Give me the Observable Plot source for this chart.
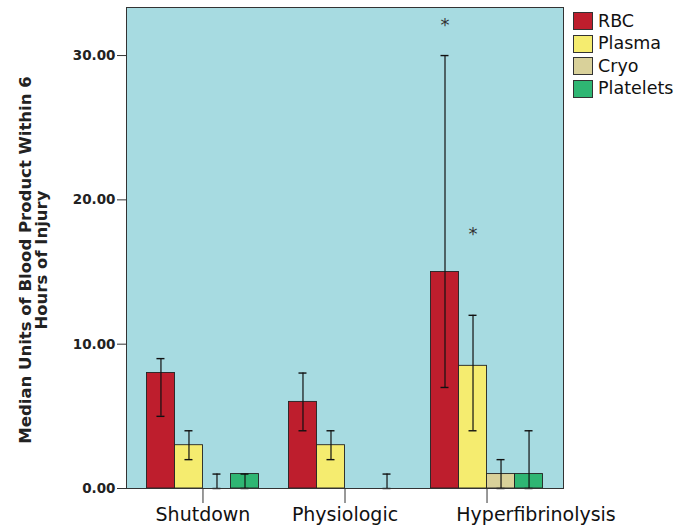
<!DOCTYPE html>
<html>
<head>
<meta charset="utf-8">
<script src="https://cdn.jsdelivr.net/npm/d3@7"></script>
<script src="https://cdn.jsdelivr.net/npm/@observablehq/plot@0.6"></script>
<style>
  html, body { margin: 0; padding: 0; background: #fff; }
  #wrap { position: relative; width: 684px; height: 530px; font-family: "DejaVu Sans", sans-serif; overflow: hidden; }
  #wrap svg { position: absolute; left: 0; top: 0; }
  #legend { position: absolute; left: 573px; top: 10px; }
  .row { display: flex; align-items: center; height: 22.5px; }
  .sw { width: 18px; height: 16px; border: 1px solid #333; margin-right: 5px; box-sizing: content-box; }
  .lb { font-size: 17.5px; color: #111; line-height: 1; }
  #ylabel { position: absolute; width: 450px; height: 32px; left: -191px; top: 244px; transform: rotate(-90deg); transform-origin: 50% 50%;
            text-align: center; font-weight: bold; font-size: 16.5px; line-height: 16px; color: #222; white-space: pre; }
</style>
</head>
<body>
<div id="wrap"></div>
<script>
const groups = ["Shutdown", "Physiologic", "Hyperfibrinolysis"];
const products = ["RBC", "Plasma", "Cryo", "Platelets"];
const colors = ["#be1e2d", "#f5ec6f", "#d9d19a", "#2fb673"];

const rbc = [8, 6, 15];
const rbcLo = [5, 4, 7];
const rbcHi = [9, 8, 30];
const plasma = [3, 3, 8.5];
const plasmaLo = [2, 2, 4];
const plasmaHi = [4, 4, 12];
const cryo = [0, 0, 1];
const cryoLo = [0, null, 0];
const cryoHi = [1, null, 2];
const platelets = [1, 0, 1];
const plateletsLo = [0, 0, 0];
const plateletsHi = [1, 1, 4];
const rbcOutlier = [null, null, 32.1];
const plasmaOutlier = [null, null, 17.6];
const yTicks = [0, 10, 20, 30];
const yLabel = "Median Units of Blood Product Within 6\nHours of Injury";

const series = [
  [rbc, rbcLo, rbcHi, rbcOutlier],
  [plasma, plasmaLo, plasmaHi, plasmaOutlier],
  [cryo, cryoLo, cryoHi, null],
  [platelets, plateletsLo, plateletsHi, null]
];
const rows = [];
groups.forEach((g, gi) => {
  products.forEach((p, pi) => {
    const [v, lo, hi, out] = series[pi];
    rows.push({group: g, product: p, value: v[gi], lo: lo[gi], hi: hi[gi], star: out ? out[gi] : null});
  });
});

const W = 684, H = 530, mL = 126, mR = 121, mT = 7, mB = 42;
const padIn = 0.211, padOut = 0.144;
const band = d3.scaleBand(groups, [mL, W - mR]).paddingInner(padIn).paddingOuter(padOut).bandwidth();
const sub = band / products.length;
const cap = 8;

const productMarks = products.flatMap((p, i) => {
  const mine = rows.filter(d => d.product === p);
  const err = mine.filter(d => d.lo != null && d.hi != null);
  const stars = mine.filter(d => d.star != null);
  const off = sub * (i - (products.length - 1) / 2);
  const iL = sub * i, iR = sub * (products.length - 1 - i);
  return [
    Plot.barY(mine, {x: "group", y: "value", fill: "product", stroke: "#222", strokeWidth: 0.9, insetLeft: iL, insetRight: iR}),
    Plot.ruleX(err, {x: "group", y1: "lo", y2: "hi", dx: off, stroke: "#111", strokeWidth: 1.2}),
    Plot.tickY(err, {x: "group", y: "hi", stroke: "#111", strokeWidth: 1.4, insetLeft: iL + (sub - cap) / 2, insetRight: iR + (sub - cap) / 2}),
    Plot.tickY(err, {x: "group", y: "lo", stroke: "#111", strokeWidth: 1.4, insetLeft: iL + (sub - cap) / 2, insetRight: iR + (sub - cap) / 2}),
    Plot.text(stars, {x: "group", y: "star", dx: off, text: () => "*", fontSize: 18, fill: "#333"})
  ];
});

const chart = Plot.plot({
  width: W,
  height: H,
  marginLeft: mL,
  marginRight: mR,
  marginTop: mT,
  marginBottom: mB,
  style: {fontFamily: "DejaVu Sans, sans-serif", background: "transparent", color: "#111"},
  x: {domain: groups, paddingInner: padIn, paddingOuter: padOut, round: false, label: null},
  y: {domain: [0, 33.33], label: null},
  color: {domain: products, range: colors},
  marks: [
    Plot.frame({fill: "#a7dbe1", stroke: "none"}),
    ...productMarks,
    Plot.frame({stroke: "#333", strokeWidth: 1}),
    Plot.axisY({ticks: yTicks, tickFormat: d3.format(".2f"), tickSize: 9, tickPadding: 2, fontSize: 13.5, fontWeight: "bold", label: null, stroke: "#333", fill: "#222"}),
    Plot.axisX({tickSize: 15, tickFormat: () => "", label: null, stroke: "#333"}),
    Plot.axisX({ticks: groups.slice(0, 2), tickSize: 0, tickPadding: 19, fontSize: 19, label: null}),
    Plot.axisX({ticks: groups.slice(2), tickSize: 0, tickPadding: 19, fontSize: 19, dx: 49, label: null})
  ]
});
const wrap = document.getElementById("wrap");
wrap.appendChild(chart);

const yl = document.createElement("div");
yl.id = "ylabel";
yl.textContent = yLabel;
wrap.appendChild(yl);

const legend = document.createElement("div");
legend.id = "legend";
products.forEach((p, i) => {
  const row = document.createElement("div");
  row.className = "row";
  const sw = document.createElement("div");
  sw.className = "sw";
  sw.style.background = colors[i];
  const lb = document.createElement("span");
  lb.className = "lb";
  lb.textContent = p;
  row.appendChild(sw);
  row.appendChild(lb);
  legend.appendChild(row);
});
wrap.appendChild(legend);
</script>
</body>
</html>
